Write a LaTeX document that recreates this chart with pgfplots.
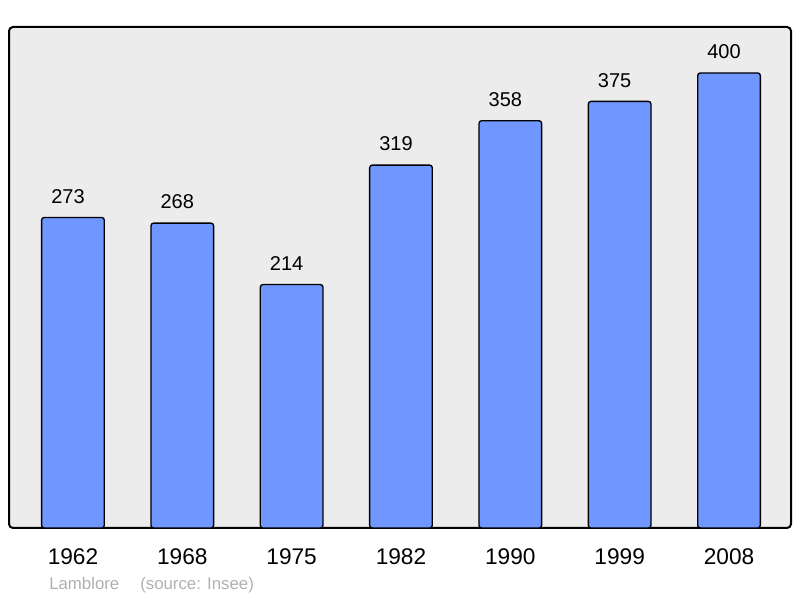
\documentclass[border=0pt]{standalone}
\usepackage{fontspec}
\setmainfont{Liberation Sans}
\usepackage{pgfplots}
\pgfplotsset{compat=1.18}

\definecolor{barblue}{RGB}{112,150,255}
\definecolor{bggray}{RGB}{236,236,236}
\definecolor{srcgray}{RGB}{176,176,176}

\begin{document}
\begin{tikzpicture}
\path[use as bounding box] (0,0) rectangle (600pt,448.5pt);
\begin{axis}[
  at={(6.75pt,52.5pt)}, anchor=south west,
  scale only axis, width=586.5pt, height=375.75pt,
  xmin=-0.585, xmax=6.567, ymin=0, ymax=440.4,
  axis line style={draw=none},
  axis background/.style={fill=bggray, draw=black, line width=1.5pt, rounded corners=3pt},
  ytick=\empty,
  xtick={0,1,2,3,4,5,6},
  xticklabels={1962,1968,1975,1982,1990,1999,2008},
  major tick length=0pt,
  xticklabel style={font=\fontsize{17}{20}\selectfont, inner sep=0pt, anchor=north, yshift=-15pt},
  /pgf/number format/assume math mode=true,
  ybar, bar width=47pt,
  nodes near coords,
  every node near coord/.append style={font=\fontsize{15}{18}\selectfont, inner sep=0pt, yshift=10pt, xshift=-3.75pt},
]
\addplot[draw=black, line width=1pt, fill=barblue, rounded corners=2pt]
coordinates {(0,273) (1,268) (2,214) (3,319) (4,358) (5,375) (6,400)};
\end{axis}
\node[anchor=base west, inner sep=0pt, text=srcgray, font=\fontsize{12.6}{15}\selectfont] at (36.75pt,6pt) {Lamblore};
\node[anchor=base west, inner sep=0pt, text=srcgray, font=\fontsize{12.6}{15}\selectfont] at (105pt,6pt) {(source: Insee)};
\end{tikzpicture}
\end{document}
